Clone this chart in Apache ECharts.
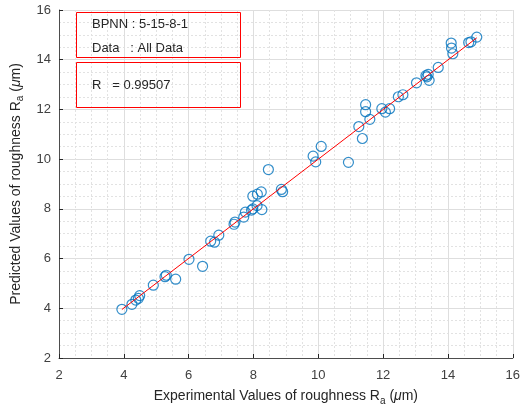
<!DOCTYPE html>
<html>
<head>
<meta charset="utf-8">
<script src="https://cdn.jsdelivr.net/npm/echarts@6/dist/echarts.min.js"></script>
<style>
  html, body { margin: 0; padding: 0; background: #fff; overflow: hidden; }
  #chart { width: 523px; height: 411px; }
</style>
</head>
<body>
<div id="chart"></div>
<script>
// experimental vs predicted roughness Ra (um)
const experimental = [
  3.94, 4.25, 4.37, 4.45, 4.49, 4.91, 5.27, 5.31, 5.60, 6.01,
  6.43, 6.68, 6.80, 6.93, 7.40, 7.43, 7.70, 7.75, 7.94, 7.98,
  8.11, 8.26, 7.98, 8.12, 8.24, 8.46, 8.86, 8.90, 9.84, 9.92,
  10.09, 10.93, 11.25, 11.36, 11.46, 11.46, 11.59, 11.96, 12.07, 12.20,
  12.47, 12.61, 13.03, 13.32, 13.35, 13.39, 13.42, 13.70, 14.10, 14.11,
  14.15, 14.64, 14.71, 14.89
];
const predicted = [
  3.96, 4.16, 4.33, 4.40, 4.51, 4.93, 5.27, 5.33, 5.17, 5.97,
  5.69, 6.70, 6.66, 6.94, 7.38, 7.47, 7.67, 7.87, 7.95, 8.00,
  8.13, 7.97, 8.51, 8.59, 8.68, 9.58, 8.78, 8.69, 10.12, 9.89,
  10.51, 9.87, 11.31, 10.83, 12.19, 11.91, 11.60, 12.03, 11.89, 12.03,
  12.51, 12.59, 13.07, 13.36, 13.31, 13.41, 13.17, 13.69, 14.67, 14.47,
  14.24, 14.69, 14.72, 14.91
];
// end points of the fitted line
const fitX = [3.94, 14.89];
const fitY = [3.95, 14.88];

const axisTicks = [2, 4, 6, 8, 10, 12, 14, 16];
const infoLines = ['BPNN : 5-15-8-1', 'Data   : All Data'];
const rText = 'R   = 0.99507';

const FONT = '"Liberation Sans", Arial, Helvetica, sans-serif';
const TXT = '#262626';

const chart = echarts.init(document.getElementById('chart'), null, { renderer: 'canvas', width: 523, height: 411 });

function axisCommon(name) {
  return {
    type: 'value',
    min: axisTicks[0],
    max: axisTicks[axisTicks.length - 1],
    interval: 2,
    name: name,
    nameLocation: 'middle',
    nameTextStyle: {
      color: TXT,
      fontFamily: FONT,
      fontSize: 14,
      rich: {
        t: { fontSize: 14, color: TXT, fontFamily: FONT },
        s: { fontSize: 10, color: TXT, fontFamily: FONT, padding: [9, 0, 0, 0] },
        i: { fontSize: 14, color: TXT, fontFamily: FONT, fontStyle: 'italic' }
      }
    },
    axisLine: { show: true, onZero: false, lineStyle: { color: '#4d4d4d', width: 1 } },
    axisTick: { show: true, inside: true, length: 4, lineStyle: { color: '#262626' } },
    axisLabel: { color: '#404040', fontFamily: FONT, fontSize: 13 },
    splitLine: { show: true, lineStyle: { color: '#dedede', width: 1 } },
    minorTick: { show: false, splitNumber: 4 },
    minorSplitLine: { show: true, lineStyle: { color: '#e2e2e2', type: [2, 2], width: 1 } }
  };
}

const nameStr = '{t|%s Values of roughness R}{s|a}{t| (}{i|μ}{t|m)}';

const xAxis = axisCommon(nameStr.replace('%s', 'Experimental'));
xAxis.nameGap = 29;
xAxis.axisLabel.margin = 11;
const yAxis = axisCommon(nameStr.replace('%s', 'Predicted'));
yAxis.nameGap = 31;

// annotation boxes drawn as plain rectangles
function box(top) {
  return {
    type: 'rect', left: 76, top: top, z: 100,
    shape: { x: 0, y: 0, width: 164, height: 45 },
    style: { fill: 'rgba(255,255,255,0)', stroke: '#ff0000', lineWidth: 1 }
  };
}
function label(top, text) {
  return {
    type: 'text', left: 92, top: top, z: 100,
    style: { text: text, fill: TXT, font: '13px ' + FONT }
  };
}

const option = {
  animation: false,
  backgroundColor: '#fff',
  grid: { left: 59, right: 5, top: 10, bottom: 51, containLabel: false },
  xAxis: xAxis,
  yAxis: yAxis,
  series: [
    {
      type: 'line',
      data: fitX.map((x, i) => [x, fitY[i]]),
      showSymbol: false,
      lineStyle: { color: '#ff0000', width: 1 },
      z: 3
    },
    {
      type: 'scatter',
      data: experimental.map((x, i) => [x, predicted[i]]),
      symbol: 'circle',
      symbolSize: 10,
      itemStyle: { color: 'rgba(0,0,0,0)', borderColor: '#0072bd', borderWidth: 1.2 },
      z: 2
    }
  ],
  graphic: [
    box(12),
    box(62),
    label(18, infoLines[0]),
    label(42, infoLines[1]),
    label(79, rText)
  ]
};

chart.setOption(option);
</script>
</body>
</html>
